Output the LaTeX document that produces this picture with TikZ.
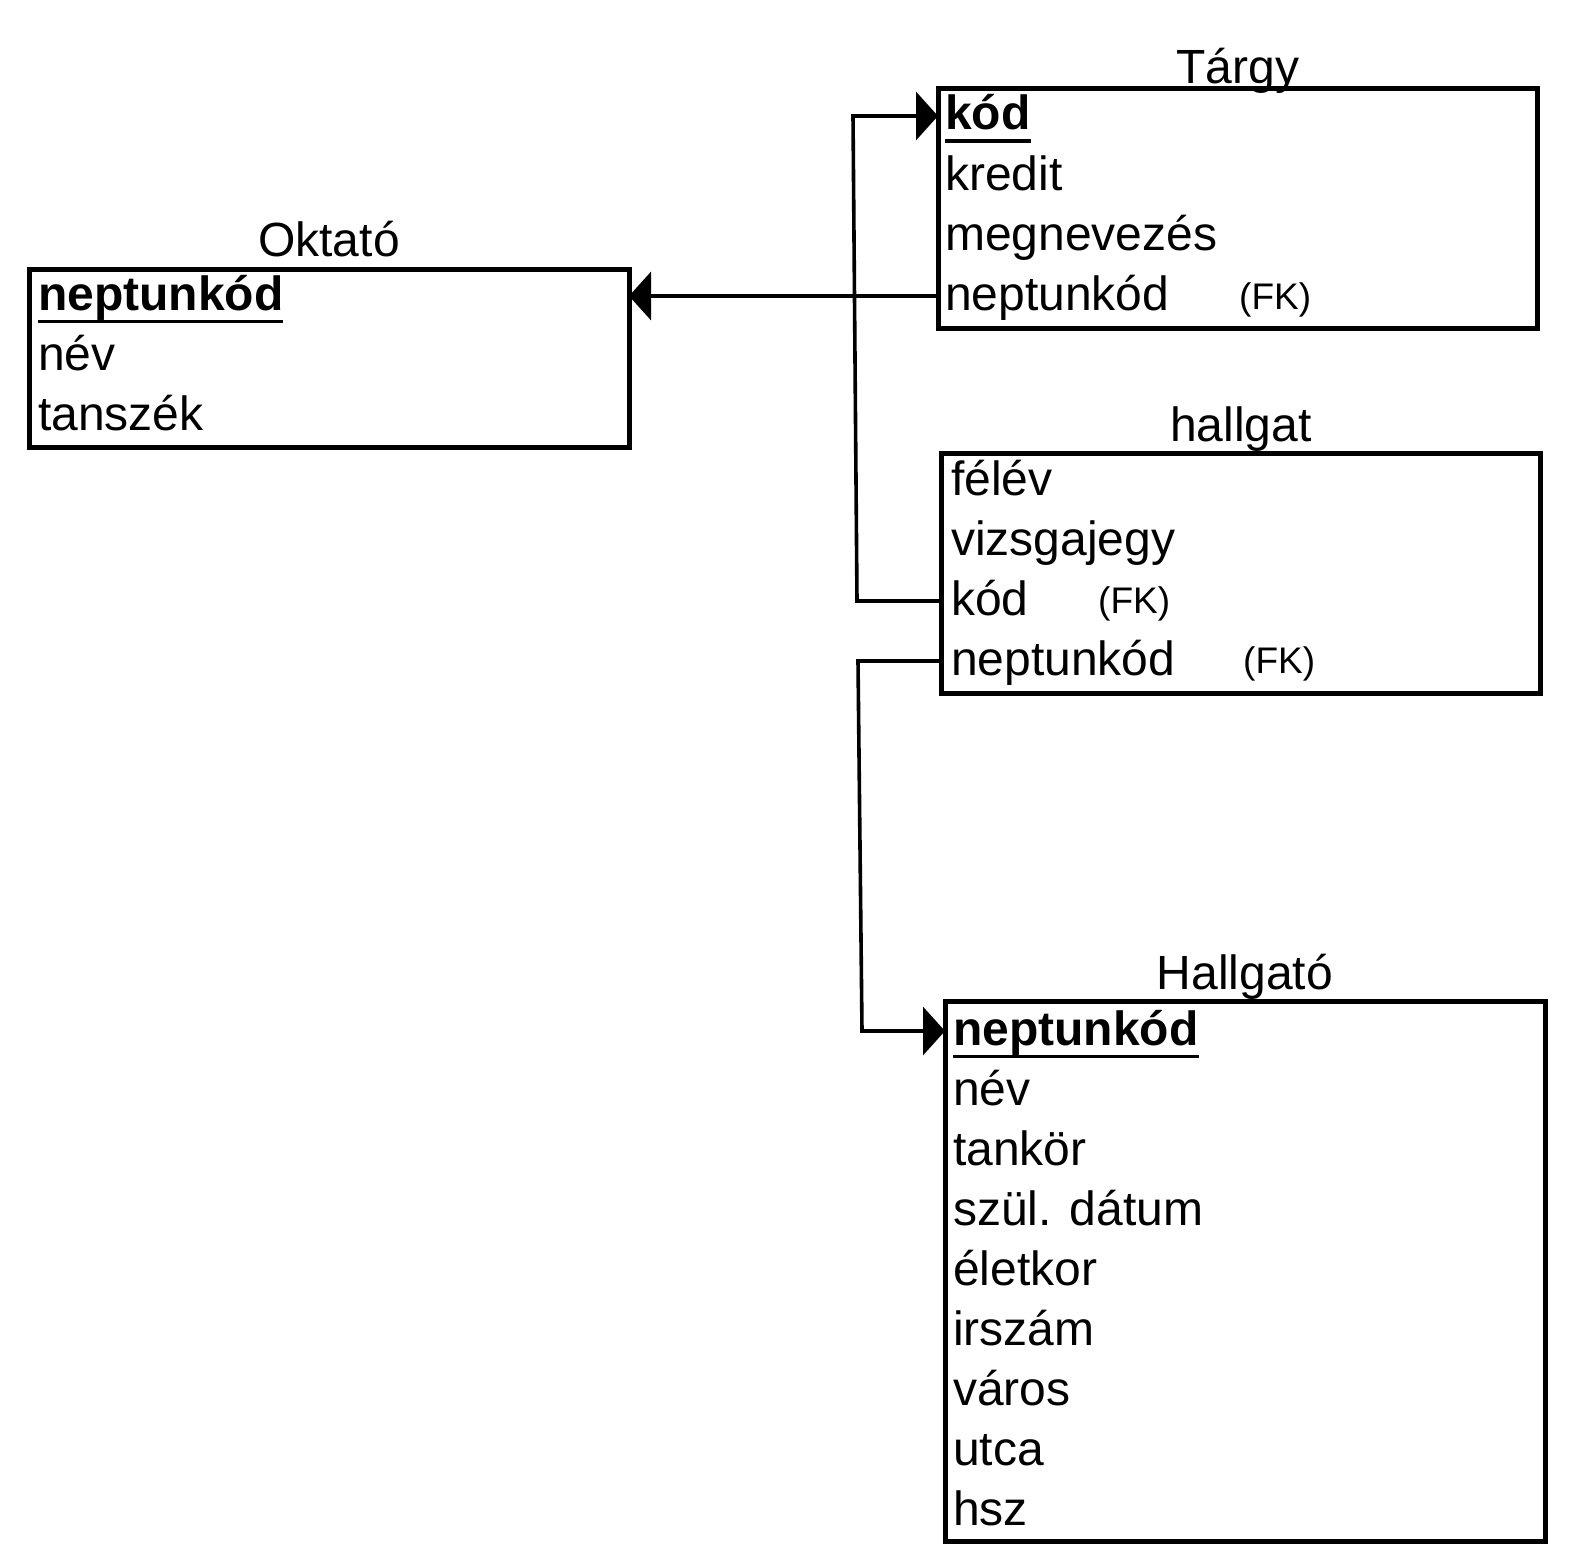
\documentclass[tikz,border=0pt]{standalone}
\usepackage{fontspec}
\setmainfont{Liberation Sans}
\usetikzlibrary{arrows.meta}

\newcommand\pkey[1]{\setbox0\hbox{\bfseries #1}\rlap{\rule[-13pt]{\wd0}{3.5pt}}\box0}

\tikzset{
  entity/.style={draw, line width=5pt, anchor=north west, inner sep=0pt, outer sep=0pt},
  attr/.style={anchor=base west, inner sep=0pt, text height=38pt, text depth=10pt, font=\fontsize{48}{58}\selectfont},
  tname/.style={anchor=base, inner sep=0pt, font=\fontsize{48}{58}\selectfont},
  fkey/.style={anchor=base west, inner sep=0pt, font=\fontsize{37}{44}\selectfont},
  fk/.style={line width=3.6pt, -{Triangle[length=22pt,width=48pt]}}
}

\begin{document}
\begin{tikzpicture}[x=1pt,y=-1pt]
            \useasboundingbox (0,0) rectangle (1572,1568);

            % tables
            \node[entity, minimum width=600pt, minimum height=178pt] (oktato) at (29,269) {};
            \node[entity, minimum width=599pt, minimum height=239pt] (targy) at (938,89) {};
            \node[entity, minimum width=599pt, minimum height=240pt] (hallgat) at (941,453) {};
            \node[entity, minimum width=600pt, minimum height=540pt] (hallgato) at (945,1001) {};

            \node[tname] (oktato-t) at (329,256) {Oktató};
            \node[tname] (targy-t) at (1238,84) {Tárgy};
            \node[tname] (hallgat-t) at (1241,441) {hallgat};
            \node[tname] (hallgato-t) at (1245,989) {Hallgató};

            %rows
                \foreach \t [count=\i] in {{\pkey{neptunkód}},név,tanszék}
                    \node[attr] (oktato-\i) at (38,{310+60*(\i-1)}) {\t};
                \foreach \t [count=\i] in {{\pkey{kód}},kredit,megnevezés,neptunkód}
                    \node[attr] (targy-\i) at (945,{130+60*(\i-1)}) {\t};
                \foreach \t [count=\i] in {félév,vizsgajegy,kód,neptunkód}
                    \node[attr] (hallgat-\i) at (951,{495+60*(\i-1)}) {\t};
                \foreach \t [count=\i] in {{\pkey{neptunkód}},név,tankör,szül. dátum,életkor,irszám,város,utca,hsz}
                    \node[attr] (hallgato-\i) at (953,{1045+60*(\i-1)}) {\t};

            \node[fkey] (targy-fk) at (1239,309) {(FK)};
            \node[fkey] (hallgat-fk1) at (1098,613) {(FK)};
            \node[fkey] (hallgat-fk2) at (1243,673) {(FK)};

            %links
            \draw[fk] (targy-4.west -| targy.west) -- (targy-4.west -| oktato.east);
            \draw[fk] (hallgat-3.west -| hallgat.west) -- (857,601) -- (853,116) -- (targy-1.west -| targy.west);
            \draw[fk] (hallgat-4.west -| hallgat.west) -- (858,661) -- (862,1031) -- (hallgato-1.west -| hallgato.west);
\end{tikzpicture}
\end{document}
